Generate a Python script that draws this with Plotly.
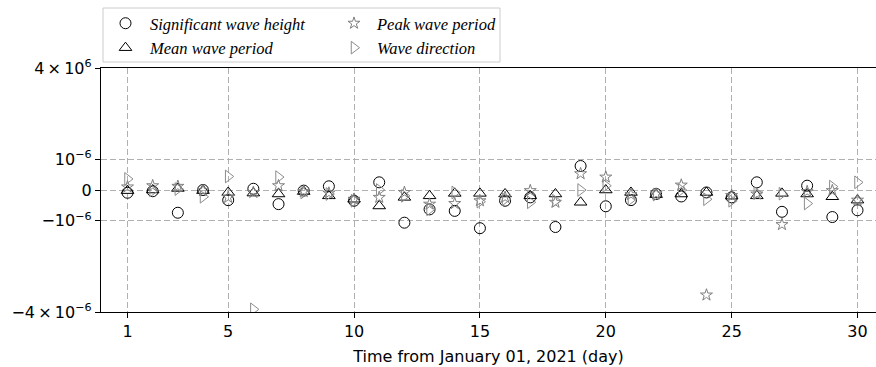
import math
import plotly.graph_objects as go

# ---------------- data (values in units of 1e-6) ----------------
days = list(range(1, 31))
sig_wave_height = [-0.09, -0.04, -0.74, 0.00, -0.33, 0.04, -0.46, -0.02, 0.12, -0.35,
                   0.25, -1.03, -0.63, -0.68, -1.12, -0.35, -0.24, -1.10, 0.78, -0.53,
                   -0.33, -0.13, -0.21, -0.08, -0.24, 0.25, -0.71, 0.14, -0.88, -0.66]
mean_wave_period = [-0.02, 0.00, 0.05, -0.02, -0.08, -0.10, -0.13, -0.05, -0.19, -0.30,
                    -0.52, -0.24, -0.19, -0.11, -0.11, -0.13, -0.19, -0.13, -0.40, 0.00,
                    -0.08, -0.15, -0.13, -0.08, -0.20, -0.19, -0.11, -0.13, -0.22, -0.33]
peak_wave_period = [0.10, 0.14, 0.12, -0.02, -0.24, -0.08, 0.14, -0.05, -0.10, -0.30,
                    -0.24, -0.08, -0.46, -0.44, -0.35, -0.24, -0.02, -0.40, 0.53, 0.42,
                    -0.15, -0.13, 0.16, -3.09, -0.18, -0.13, -1.06, -0.05, -0.02, -0.33]
wave_direction = [0.36, -0.02, 0.03, -0.22, 0.44, -3.84, 0.42, -0.08, -0.13, -0.35,
                  0.00, -0.19, -0.63, -0.08, -0.38, -0.30, -0.40, -0.35, 0.00, 0.14,
                  -0.30, -0.15, 0.00, -0.30, -0.35, -0.10, -0.12, -0.44, 0.11, 0.25]

x_ticks = [1, 5, 10, 15, 20, 25, 30]
y_tick_values = [-4, -1, 0, 1, 4]
y_tick_labels = ["\u22124\u2009\u00d7\u200910<sup>\u22126</sup>", "\u221210<sup>\u22126</sup>", "0",
                 "10<sup>\u22126</sup>", "4\u2009\u00d7\u200910<sup>6</sup>"]

# ---------------- symmetric-log scale (linthresh = 1e-6) ----------------
LIN = 0.2027  # width of linear region relative to one decade


def symlog(v):
    if abs(v) <= 1:
        return v * LIN
    return math.copysign(LIN + math.log10(abs(v)), v)


def tr(vals):
    return [symlog(v) for v in vals]


W, H = 876, 367
L, R, T, B = 101, 0, 68, 55
PW, PH = W - L - R, H - T - B


def px_x(p):
    return (p - L) / PW


def px_y(p):
    return (H - B - p) / PH


fig = go.Figure()

series = [
    ("Significant wave height", sig_wave_height, "circle-open", "black", 11, "legend"),
    ("Mean wave period", mean_wave_period, "triangle-up-open", "black", 11, "legend"),
    ("Peak wave period", peak_wave_period, "star-open", "#7f7f7f", 9, "legend2"),
    ("Wave direction", wave_direction, "triangle-right-open", "#8c8c8c", 11, "legend2"),
]
for name, vals, sym, col, sz, lg in series:
    fig.add_trace(go.Scatter(
        x=days, y=tr(vals), mode="markers", name=name, legend=lg,
        marker=dict(symbol=sym, size=sz, color=col, line=dict(color=col, width=1)),
    ))

legend_font = dict(family="Liberation Serif", size=16.5, color="black", style="italic")

leg_common = dict(font=legend_font, bgcolor="rgba(0,0,0,0)", borderwidth=0,
                  xanchor="left", yanchor="top", orientation="v",
                  tracegroupgap=0)

fig.update_layout(
    width=W, height=H,
    margin=dict(l=L, r=R, t=T, b=B, pad=0, autoexpand=False),
    paper_bgcolor="white", plot_bgcolor="white",
    showlegend=True,
    legend=dict(x=px_x(101), y=px_y(6), itemwidth=39, **leg_common),
    legend2=dict(x=px_x(331), y=px_y(6), itemwidth=36, **leg_common),
    font=dict(family="DejaVu Sans", size=16, color="black"),
    shapes=[dict(type="rect", xref="paper", yref="paper",
                 x0=px_x(103), x1=px_x(500), y0=px_y(62), y1=px_y(8),
                 line=dict(color="#cccccc", width=1), fillcolor="rgba(255,255,255,0.8)",
                 layer="below")],
)

fig.update_xaxes(
    range=[-0.053, 30.735], tickvals=x_ticks, ticktext=[str(t) for t in x_ticks],
    showgrid=True, gridcolor="#b0b0b0", griddash="6px,3px", gridwidth=1,
    showline=True, linecolor="black", linewidth=1.3, mirror=True,
    ticks="outside", ticklen=5, tickwidth=1.2, tickcolor="black",
    zeroline=False, automargin=False,
    title=dict(text="Time from January 01, 2021 (day)", font=dict(size=16), standoff=10),
    tickfont=dict(size=16),
)
fig.update_yaxes(
    range=[symlog(-4), symlog(4)],
    tickvals=[symlog(v) for v in y_tick_values], ticktext=y_tick_labels,
    showgrid=True, gridcolor="#b0b0b0", griddash="6px,3px", gridwidth=1,
    showline=True, linecolor="black", linewidth=1.3, mirror=False,
    ticks="outside", ticklen=5, tickwidth=1.2, tickcolor="black",
    zeroline=False, automargin=False, tickfont=dict(size=16),
)

fig.write_html("out.html", config={"displayModeBar": False},
               post_script="document.body.style.margin='0';")
